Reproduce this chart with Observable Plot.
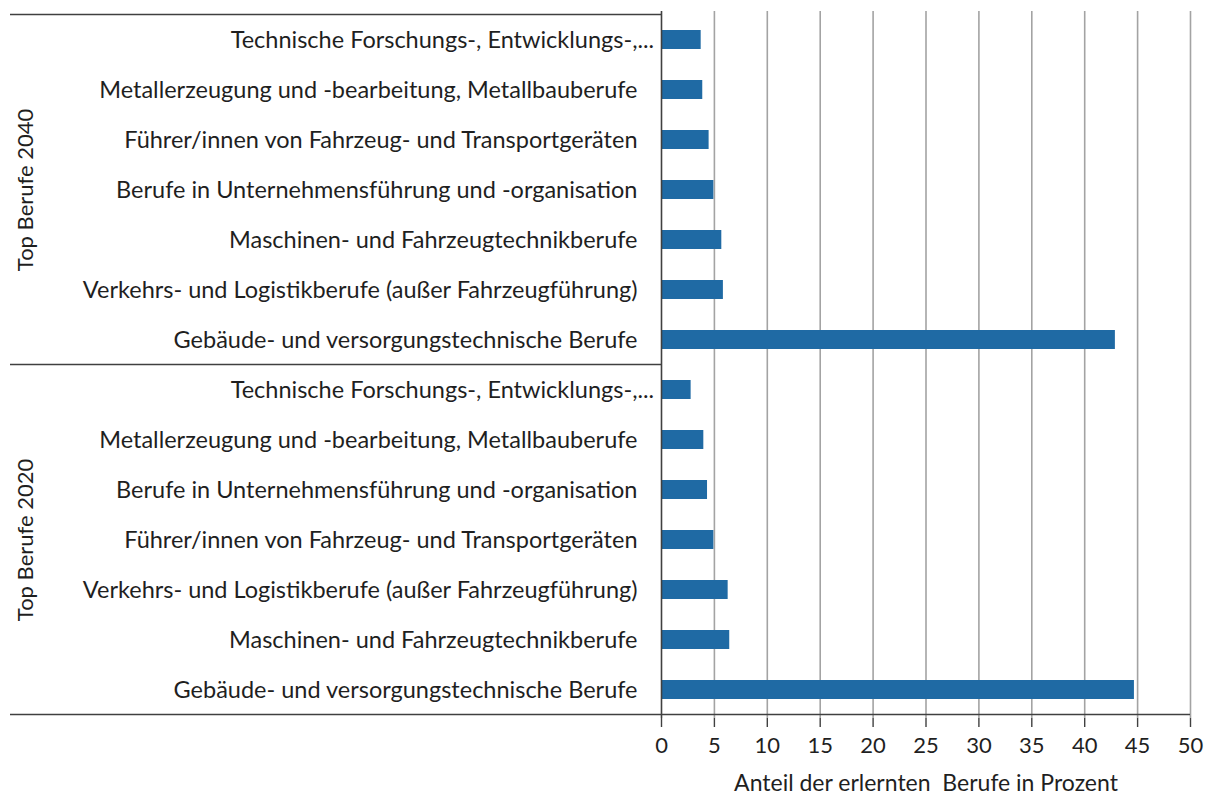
<!DOCTYPE html>
<html>
<head>
<meta charset="utf-8">
<script src="https://cdn.jsdelivr.net/npm/d3@7"></script>
<script src="https://cdn.jsdelivr.net/npm/@observablehq/plot@0.6"></script>
<style>
  html, body { margin: 0; padding: 0; background: #fff; }
  #chart { width: 1212px; height: 801px; }
</style>
</head>
<body>
<div id="chart"></div>
<script>
// ---- data (top to bottom within each group) ----
const groups = ["Top Berufe 2040", "Top Berufe 2020"];

const cats2040 = [
  "Technische Forschungs-, Entwicklungs-,...",
  "Metallerzeugung und -bearbeitung, Metallbauberufe",
  "Führer/innen von Fahrzeug- und Transportgeräten",
  "Berufe in Unternehmensführung und -organisation",
  "Maschinen- und Fahrzeugtechnikberufe",
  "Verkehrs- und Logistikberufe (außer Fahrzeugführung)",
  "Gebäude- und versorgungstechnische Berufe"
];
const vals2040 = [3.75, 3.9, 4.5, 4.95, 5.7, 5.85, 42.9];

const cats2020 = [
  "Technische Forschungs-, Entwicklungs-,...",
  "Metallerzeugung und -bearbeitung, Metallbauberufe",
  "Berufe in Unternehmensführung und -organisation",
  "Führer/innen von Fahrzeug- und Transportgeräten",
  "Verkehrs- und Logistikberufe (außer Fahrzeugführung)",
  "Maschinen- und Fahrzeugtechnikberufe",
  "Gebäude- und versorgungstechnische Berufe"
];
const vals2020 = [2.8, 4.0, 4.35, 4.95, 6.3, 6.45, 44.7];

const xTicks = [0, 5, 10, 15, 20, 25, 30, 35, 40, 45, 50];
const xLabel = "Anteil der erlernten  Berufe in Prozent";

// ---- table built from arrays ----
const rows = [];
[[groups[0], cats2040, vals2040], [groups[1], cats2020, vals2020]].forEach(([g, cats, vals]) => {
  cats.forEach((c, i) => {
    const cut = c.endsWith("...");
    rows.push({ id: g + "|" + i, group: g, cat: cut ? c.slice(0, -3) : c, cut, value: vals[i] });
  });
});
const ids = rows.map(d => d.id);
const labelOf = new Map(rows.map(d => [d.id, d.cat]));
const groupMid = groups.map(g => ({ group: g, id: g + "|3" }));

const FONT = "Lato, 'Open Sans', sans-serif";
const TEXT = "#1f1f1f";
const LINE = "#404040";

const chart = Plot.plot({
  width: 1212,
  height: 801,
  marginLeft: 661,
  marginRight: 22,
  marginTop: 11,
  marginBottom: 83,
  style: { fontFamily: FONT, fontSize: "23.5px", color: TEXT, background: "#fff", overflow: "visible" },
  x: { domain: [0, 50] },
  y: { domain: ids, paddingInner: 0.63, paddingOuter: 0.315, align: 0.5 },
  marks: [
    Plot.gridX(xTicks.filter(d => d > 0), { stroke: "#a3a3a3", strokeOpacity: 1, strokeWidth: 1.6 }),
    Plot.barX(rows, { x: "value", y: "id", fill: "#1f6aa4" }),
    Plot.axisX({ ticks: xTicks, tickSize: 9, tickPadding: 10, fontSize: 22, stroke: LINE, strokeWidth: 1.4, label: null, fill: TEXT }),
    Plot.axisY({ tickSize: 0, tickPadding: 24, fontSize: 23.5, tickFormat: id => labelOf.get(id), label: null, fill: TEXT }),
    Plot.text(rows.filter(d => d.cut), { y: "id", text: () => "...", frameAnchor: "left", dx: -24, textAnchor: "start", fontSize: 23.5, fill: TEXT }),
    Plot.ruleX([0], { stroke: LINE, strokeWidth: 1.6 }),
    Plot.text(groupMid, { y: "id", text: "group", frameAnchor: "left", textAnchor: "middle", dx: -636, rotate: -90, fontSize: 22, fill: TEXT }),
    Plot.text([xLabel], { text: d => d, frameAnchor: "bottom", dy: 72, fontSize: 23, fill: TEXT })
  ]
});

document.getElementById("chart").appendChild(chart);

// separator lines of the category table (layout decoration)
const ys = chart.scale("y");
const svg = d3.select(chart.tagName.toLowerCase() === "svg" ? chart : chart.querySelector("svg"));
const half = ys.step / 2;
const bandCenter = id => ys.apply(id) + ys.bandwidth / 2;
const xs = chart.scale("x");
const x0 = xs.apply(0);
const xEnd = xs.apply(50);
const leftEdge = 10;
const seps = [
  { y: bandCenter(groups[0] + "|0") - half, x2: x0 },
  { y: bandCenter(groups[1] + "|0") - half, x2: x0 },
  { y: bandCenter(groups[1] + "|6") + half, x2: xEnd }
];
svg.append("g").selectAll("line").data(seps).join("line")
  .attr("x1", leftEdge).attr("x2", d => d.x2)
  .attr("y1", d => d.y).attr("y2", d => d.y)
  .attr("stroke", LINE).attr("stroke-width", 1.6);
</script>
</body>
</html>
